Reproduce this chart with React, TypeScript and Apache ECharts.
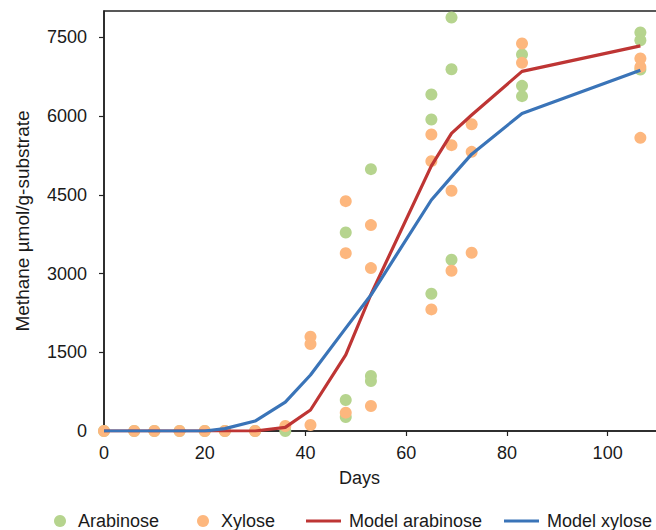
import React, { useEffect, useRef } from "react";
import * as echarts from "echarts";

// ---- data ----
const xTicks = [0, 20, 40, 60, 80, 100];
const yTicks = [0, 1500, 3000, 4500, 6000, 7500];

const arabinosePoints: [number, number][] = [
  [0, 0], [6, 0], [10, 0], [15, 0], [20, 0], [24, 0], [30, 0], [36, 0], [41, -30],
  [48, 3780], [48, 590], [48, 266],
  [53, 4988], [53, 1047], [53, 952],
  [65, 6409], [65, 5934], [65, 2614],
  [69, 7875], [69, 6891], [69, 3261],
  [83, 7171], [83, 6574], [83, 6378],
  [106.5, 7590], [106.5, 7443], [106.5, 6886],
];

const xylosePoints: [number, number][] = [
  [0, 0], [6, 0], [10, 0], [15, 0], [20, 0], [24, 0], [30, 0], [36, 95],
  [41, 1795], [41, 1656], [41, 114],
  [48, 4378], [48, 3388], [48, 349],
  [53, 3922], [53, 3103], [53, 476],
  [65, 5648], [65, 5140], [65, 2316],
  [69, 5445], [69, 4575], [69, 3052],
  [73, 5844], [73, 5317], [73, 3394],
  [83, 7380], [83, 7012],
  [106.5, 7095], [106.5, 6935], [106.5, 5584],
];

const modelDays = [0, 6, 10, 15, 20, 24, 30, 36, 41, 48, 53, 65, 69, 73, 83, 106.5];
const modelArabinose = [0, 0, 0, 0, 0, 0, 0, 70, 400, 1450, 2600, 5050, 5670, 6020, 6850, 7335];
const modelXylose = [0, 0, 0, 0, 0, 45, 190, 550, 1066, 1960, 2590, 4400, 4840, 5273, 6048, 6872];

const FONT = "'Liberation Sans', Arial, Helvetica, sans-serif";
const TXT = "#1a1a1a";

export default function App() {
  const ref = useRef<HTMLDivElement>(null);
  useEffect(() => {
    document.body.style.margin = "0";
    if (!ref.current) return;
    const chart = echarts.init(ref.current, null, { renderer: "svg" });
    const legendBase = {
      orient: "horizontal",
      itemGap: 0,
      padding: 0,
      top: 512,
      textStyle: { fontFamily: FONT, fontSize: 18, color: TXT },
      selectedMode: false,
    };
    const circleLegend = {
      ...legendBase,
      itemWidth: 12,
      itemHeight: 12,
      textStyle: { ...legendBase.textStyle, padding: [0, 0, 0, 7] },
    };
    const lineLegend = {
      ...legendBase,
      itemWidth: 35,
      itemHeight: 3,
      textStyle: { ...legendBase.textStyle, padding: [0, 0, 0, 3] },
    };
    chart.setOption({
      animation: false,
      grid: {
        left: 104,
        top: 11,
        right: -2,
        bottom: 99,
        outerBoundsMode: "none",
        containLabel: false,
        show: true,
        borderColor: "#222",
        borderWidth: 1.5,
        backgroundColor: "transparent",
      },
      xAxis: {
        type: "value",
        min: 0,
        max: 110,
        splitLine: { show: false },
        axisLine: { lineStyle: { color: "#222", width: 1.5 } },
        axisTick: { length: 5, lineStyle: { color: "#222", width: 1.2 }, customValues: xTicks },
        axisLabel: {
          customValues: xTicks,
          fontFamily: FONT,
          fontSize: 18,
          color: TXT,
          margin: 13,
          formatter: (v: number) => String(v),
        },
      },
      yAxis: {
        type: "value",
        min: 0,
        max: 8000,
        name: "Methane µmol/g-substrate",
        nameLocation: "middle",
        nameGap: 72,
        nameTextStyle: { fontFamily: FONT, fontSize: 19, color: TXT },
        splitLine: { show: false },
        axisLine: { lineStyle: { color: "#222", width: 1.5 } },
        axisTick: { length: 5, lineStyle: { color: "#222", width: 1.2 }, customValues: yTicks },
        axisLabel: {
          customValues: yTicks,
          fontFamily: FONT,
          fontSize: 18,
          color: TXT,
          margin: 17,
          formatter: (v: number) => String(v),
        },
      },
      graphic: [
        {
          type: "text",
          left: 339,
          top: 469,
          style: { text: "Days", fontFamily: FONT, fontSize: 18, fill: TXT },
        },
      ],
      legend: [
        { ...circleLegend, data: [{ name: "Arabinose", icon: "circle" }], left: 54 },
        { ...circleLegend, data: [{ name: "Xylose", icon: "circle" }], left: 197 },
        { ...lineLegend, data: [{ name: "Model arabinose", icon: "rect" }], left: 306 },
        { ...lineLegend, data: [{ name: "Model xylose", icon: "rect" }], left: 504 },
      ],
      series: [
        {
          name: "Arabinose",
          type: "scatter",
          symbol: "circle",
          symbolSize: 12,
          itemStyle: { color: "#b6d48e", opacity: 1 },
          data: arabinosePoints,
        },
        {
          name: "Xylose",
          type: "scatter",
          symbol: "circle",
          symbolSize: 12,
          itemStyle: { color: "#fdb77e", opacity: 1 },
          data: xylosePoints,
        },
        {
          name: "Model arabinose",
          type: "line",
          symbol: "none",
          color: "#be3534",
          lineStyle: { color: "#be3534", width: 3.2 },
          data: modelDays.map((d, i) => [d, modelArabinose[i]]),
        },
        {
          name: "Model xylose",
          type: "line",
          symbol: "none",
          color: "#3a74b8",
          lineStyle: { color: "#3a74b8", width: 3.2 },
          data: modelDays.map((d, i) => [d, modelXylose[i]]),
        },
      ],
    });
    return () => chart.dispose();
  }, []);
  return <div ref={ref} style={{ width: 656, height: 530 }} />;
}
